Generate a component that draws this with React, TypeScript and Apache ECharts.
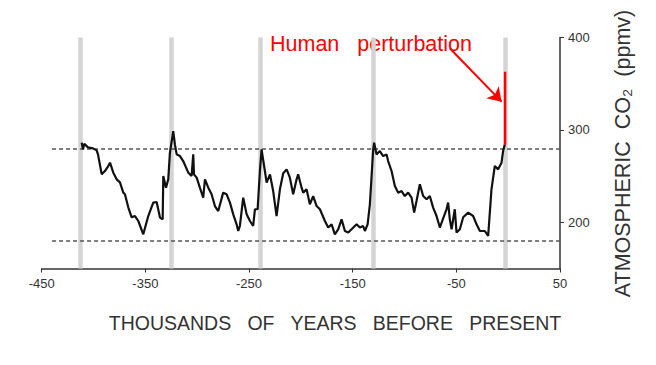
import React, { useEffect, useRef } from "react";
import * as echarts from "echarts";

// Thousands of years before present (negative = past)
const years: number[] = [
  -411.4, -410.2, -408.9, -405.4, -400.5, -397.0, -395.7, -392.1, -389.0, -385.8,
  -384.1, -381.0, -377.7, -374.5, -371.3, -369.7, -366.5, -363.2, -360.0, -356.8,
  -352.0, -347.2, -342.4, -339.1, -335.9, -333.3, -332.7, -330.1, -327.9, -326.3,
  -323.1, -321.5, -319.8, -316.6, -313.5, -308.6, -305.4, -303.8, -303.1, -300.5,
  -297.4, -294.2, -292.5, -289.3, -286.1, -282.9, -279.7, -274.9, -271.6, -268.4,
  -265.2, -262.0, -260.4, -258.8, -255.6, -252.3, -249.1, -246.0, -244.3, -241.7,
  -239.5, -237.9, -234.7, -233.0, -229.8, -226.7, -223.4, -220.2, -217.0, -213.7,
  -210.6, -207.4, -204.1, -202.6, -199.3, -197.7, -194.5, -191.3, -188.1, -184.8,
  -181.6, -176.8, -173.6, -170.3, -167.2, -164.0, -160.7, -157.5, -154.3, -151.1,
  -146.2, -143.1, -139.9, -138.2, -135.6, -133.4, -130.2, -129.3, -127.0, -123.8,
  -120.6, -117.3, -115.8, -112.5, -109.3, -106.1, -102.8, -99.7, -96.5, -93.2,
  -90.7, -88.4, -85.2, -82.0, -78.7, -75.6, -72.4, -69.1, -65.9, -62.7,
  -59.5, -57.9, -56.3, -54.6, -51.5, -49.8, -46.6, -43.4, -38.6, -33.8,
  -30.5, -27.3, -22.5, -19.3, -16.1, -12.9, -9.7, -6.4, -4.9, -3.2,
];

// Atmospheric CO2 (ppmv)
const co2: number[] = [
  286.2, 278.9, 285.1, 281.1, 280.0, 277.8, 273.5, 252.0, 255.5, 260.9,
  264.5, 254.0, 246.5, 243.2, 232.1, 230.3, 216.2, 205.4, 206.8, 201.4,
  187.0, 206.8, 221.3, 222.0, 205.1, 203.2, 250.1, 237.5, 246.5, 275.4,
  298.7, 284.3, 273.5, 271.7, 266.3, 253.7, 250.1, 273.5, 251.9, 248.3,
  237.5, 226.7, 246.5, 237.5, 230.3, 217.6, 212.2, 232.1, 230.3, 221.3,
  208.6, 197.8, 190.6, 196.0, 226.7, 208.6, 201.4, 196.0, 214.1, 214.1,
  255.5, 278.9, 255.5, 242.9, 251.9, 233.8, 206.8, 235.7, 253.0, 257.3,
  248.3, 230.3, 246.5, 251.9, 237.5, 232.1, 235.7, 219.5, 228.4, 217.6,
  214.1, 201.4, 194.3, 197.8, 187.0, 192.4, 203.2, 190.6, 188.9, 192.4,
  197.8, 194.3, 196.0, 190.6, 197.8, 219.5, 278.9, 286.2, 273.5, 277.1,
  271.7, 273.5, 266.3, 255.5, 239.2, 232.1, 233.8, 228.4, 232.1, 226.7,
  210.5, 223.0, 241.1, 228.4, 224.9, 228.4, 215.9, 206.8, 194.3, 204.3,
  214.1, 221.3, 203.2, 192.4, 214.1, 188.9, 192.4, 205.4, 210.5, 206.8,
  197.8, 190.6, 190.6, 185.2, 235.7, 260.9, 257.3, 264.5, 277.1, 284.3,
];

// Interglacial markers (thousands of years)
const interglacials: number[] = [-413, -325, -239.5, -130, -3];
// Reference CO2 levels (ppmv)
const referenceLevels: number[] = [280, 180];
const referenceStart = -440;
const referenceEnd = 50;
// Human perturbation segment
const humanYears: number[] = [-3, -3];
const humanCo2: number[] = [284, 363];
// Annotation arrow (data coords)
const arrowFrom: number[] = [-56.3, 388.3];
const arrowTo: number[] = [-6.4, 330.6];

const yTicks: number[] = [200, 300, 400];

const FONT = "Arial, 'Liberation Sans', Helvetica, sans-serif";

export default function App() {
  const ref = useRef<HTMLDivElement>(null);

  useEffect(() => {
    if (!ref.current) return;
    const chart = echarts.init(ref.current, undefined, { renderer: "svg" });
    const axisColor = "#333";
    const option: any = {
      animation: false,
      backgroundColor: "#ffffff",
      grid: { left: 41.7, right: 96, top: 37.5, bottom: 96.5, containLabel: false },
      xAxis: {
        type: "value",
        min: -450,
        max: 50,
        interval: 100,
        axisLine: { show: true, onZero: false, lineStyle: { color: axisColor, width: 1.5 } },
        axisTick: { show: true, length: 4, lineStyle: { color: axisColor, width: 1 } },
        axisLabel: { color: axisColor, fontSize: 13, margin: 8, fontFamily: FONT },
        splitLine: { show: false },
      },
      yAxis: {
        type: "value",
        position: "right",
        min: 150,
        max: 400,
        axisLine: { show: true, onZero: false, lineStyle: { color: axisColor, width: 1.5 } },
        axisTick: { show: true, length: 4, customValues: yTicks, lineStyle: { color: axisColor } },
        axisLabel: { color: axisColor, fontSize: 13, margin: 8, fontFamily: FONT, customValues: yTicks },
        splitLine: { show: false },
      },
      series: [
        {
          name: "interglacials",
          type: "line",
          data: [],
          z: 1,
          silent: true,
          markLine: {
            z: 1,
            silent: true,
            symbol: ["none", "none"],
            label: { show: false },
            lineStyle: { color: "#d4d4d4", width: 4.5, type: "solid" },
            data: interglacials.map((x) => ({ xAxis: x })),
          },
        },
        {
          name: "reference",
          type: "line",
          data: [],
          z: 2,
          silent: true,
          markLine: {
            z: 2,
            silent: true,
            symbol: ["none", "none"],
            label: { show: false },
            lineStyle: { color: "#555", width: 1.5, type: [4, 3] },
            data: referenceLevels.map((y) => [
              { coord: [referenceStart, y] },
              { coord: [referenceEnd, y] },
            ]),
          },
        },
        {
          name: "CO2",
          type: "line",
          z: 3,
          showSymbol: false,
          symbol: "none",
          lineStyle: { color: "#111", width: 2.2 },
          data: years.map((x, i) => [x, co2[i]]),
        },
        {
          name: "Human perturbation",
          type: "line",
          z: 4,
          showSymbol: false,
          symbol: "none",
          lineStyle: { color: "#ff0000", width: 2.4 },
          data: humanYears.map((x, i) => [x, humanCo2[i]]),
          markLine: {
            z: 5,
            silent: true,
            symbol: ["none", "arrow"],
            symbolSize: 13,
            label: { show: false },
            lineStyle: { color: "#ff0000", width: 2, type: "solid" },
            data: [[{ coord: arrowFrom }, { coord: arrowTo }]],
          },
        },
      ],
      graphic: [
        {
          type: "text",
          left: 270,
          top: 33,
          style: {
            text: "Human   perturbation",
            fill: "#ff0000",
            fontSize: 21.5,
            fontFamily: FONT,
          },
        },
        {
          type: "text",
          x: 335,
          y: 323,
          style: {
            text: "THOUSANDS   OF   YEARS   BEFORE   PRESENT",
            fill: "#333",
            fontSize: 19.5,
            fontFamily: FONT,
            align: "center",
            verticalAlign: "middle",
          },
        },
        {
          type: "text",
          x: 623,
          y: 153.5,
          rotation: Math.PI / 2,
          style: {
            text: "ATMOSPHERIC  CO\u2082  (ppmv)",
            fill: "#333",
            fontSize: 21.5,
            fontFamily: FONT,
            align: "center",
            verticalAlign: "middle",
          },
        },
      ],
    };
    chart.setOption(option);
    return () => chart.dispose();
  }, []);

  return (
    <div
      ref={ref}
      style={{ position: "absolute", left: 0, top: 0, width: 656, height: 365 }}
    />
  );
}
